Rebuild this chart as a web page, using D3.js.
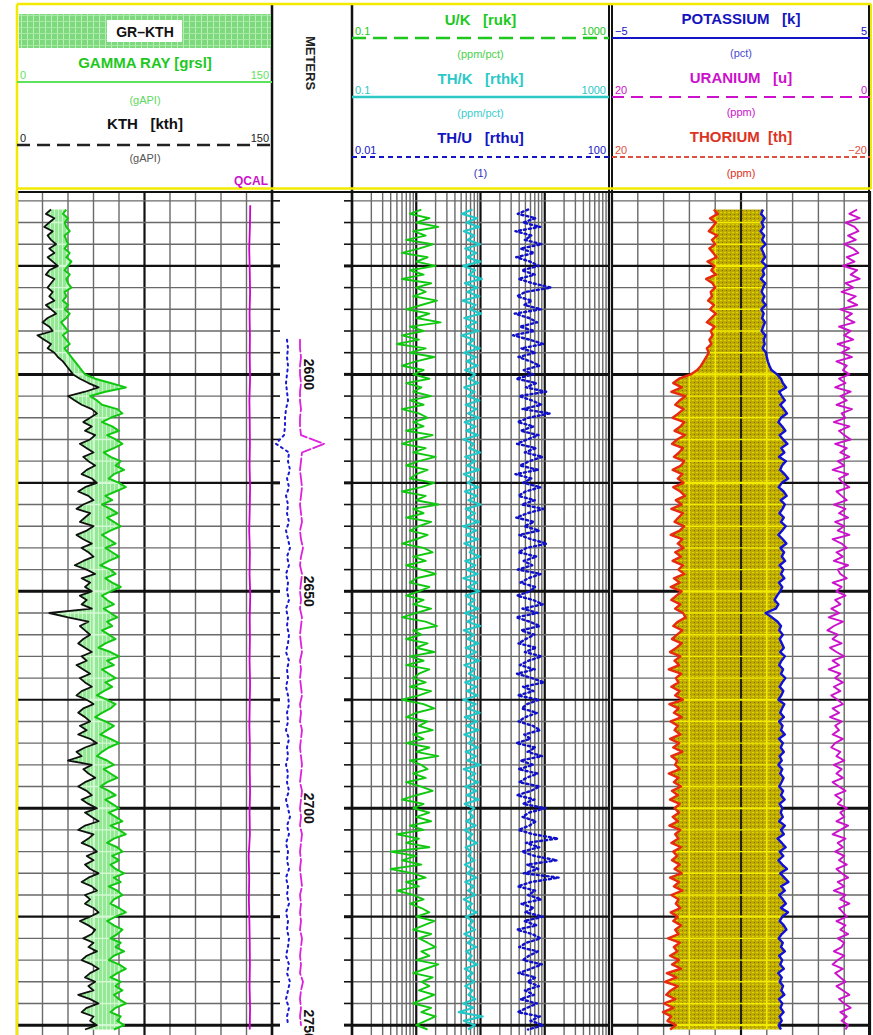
<!DOCTYPE html>
<html><head><meta charset="utf-8">
<script src="https://cdn.jsdelivr.net/npm/d3@7"></script>
<style>
body{margin:0;background:#fff}
svg{display:block}
text{font-family:"Liberation Sans",Arial,sans-serif;white-space:pre}
</style>
</head><body>
<svg id="c" width="873" height="1035"></svg>
<script>
// ---------------- DATA ----------------
const depthTop = 2562;            // first sample depth (m), 1 m spacing
const depthStep = 1;
const grValues = [
29,27,30,28,29,31,28,29,30,28, 31,29,32,30,28,31,29,30,32,28,
29,27,30,28,31,29,26,28,30,27, 29,31,28,30,32,34,36,38,40,46,
55,64,52,43,47,50,59,62,55,50, 56,60,53,58,62,57,51,55,61,58,
63,57,54,60,64,58,52,56,50,55, 59,53,57,61,55,50,54,58,52,56,
60,54,49,55,58,52,56,61,55,50, 53,57,51,55,59,53,56,50,54,58,
52,48,55,60,53,57,50,54,58,52, 56,51,47,53,58,55,50,46,52,57,
53,49,55,60,54,50,47,53,57,51, 55,59,53,49,54,58,52,56,60,54,
58,62,55,60,64,57,53,59,62,56, 60,55,58,63,57,61,54,59,62,57,
55,60,64,58,53,57,62,59,55,61, 58,63,57,54,60,64,59,55,61,58,
62,57,60,64,58,55,61,59,63,57];
const kthValues = [
20,17,22,19,16,21,18,20,23,19, 22,18,21,24,19,17,22,20,18,21,
19,22,17,20,23,18,15,19,21,12, 16,20,18,22,24,27,29,31,33,37,
42,48,40,30,34,38,44,47,43,39, 44,40,46,43,37,41,45,39,42,46,
41,38,44,47,40,36,42,45,39,35, 43,40,37,45,41,35,39,44,38,42,
45,39,34,41,46,38,43,40,44,37, 41,38,44,19,30,42,37,40,43,39,
36,40,44,38,41,35,39,43,37,40, 44,38,35,41,45,39,36,40,43,37,
41,36,43,47,40,35,38,30,44,39, 42,46,40,36,41,44,38,42,47,40,
44,48,40,36,45,42,38,44,47,41, 45,40,43,48,42,38,44,47,40,43,
40,45,48,43,37,42,46,44,39,45, 42,47,41,38,44,48,43,40,46,42,
45,36,43,48,41,38,45,43,47,40];
const qcalDepthTop = 2561, qcalStep = 5;
const qcalValues = [
137.2,137.0,136.6,136.9,137.1,136.8,137.0,136.9,137.1,136.7,
136.9,137.0,136.8,137.1,136.9,136.6,137.0,136.8,137.2,136.9,
137.0,136.8,137.1,136.9,136.7,137.0,136.9,137.1,136.8,137.0,
136.3,136.6,136.4,136.7,136.9,137.0,136.8,137.1,136.9];
const ukValues = [
1.2,0.8,1.6,1.0,2.2,0.9,1.4,0.7,1.8,1.1, 0.6,1.5,1.0,2.0,0.8,1.3,0.6,1.7,1.0,1.4,
0.9,2.1,1.2,0.7,1.6,1.0,2.4,0.8,1.3,0.6, 1.1,0.5,1.4,0.8,1.9,1.0,0.6,1.3,0.9,1.6,
0.7,1.2,0.9,1.7,0.8,1.3,0.6,1.1,1.5,0.9, 1.3,0.7,1.8,1.0,0.6,1.4,0.9,2.0,1.1,0.7,
1.5,1.0,0.8,1.9,1.2,0.6,1.4,1.0,2.2,0.9, 1.3,0.7,1.7,1.1,0.8,1.5,1.0,0.6,1.3,1.8,
0.9,1.4,0.7,1.2,2.0,1.0,0.8,1.6,1.1,0.7, 1.3,0.9,1.7,1.0,0.6,1.4,2.1,0.9,1.2,0.7,
1.5,1.0,1.9,0.8,1.3,0.7,1.6,1.1,0.9,1.4, 0.8,1.7,1.1,0.6,1.3,1.9,1.0,0.7,1.5,1.1,
1.8,0.9,1.3,0.7,1.6,1.0,2.2,0.8,1.2,1.5, 0.9,1.4,0.7,1.2,1.8,1.0,0.6,1.3,0.9,1.6,
1.0,1.7,0.8,1.3,0.5,1.1,0.7,1.6,0.4,1.0, 0.6,1.2,0.4,0.9,1.4,0.7,1.1,0.5,0.9,1.3,
0.8,1.2,1.6,1.0,1.9,1.3,0.9,1.7,1.1,1.5, 2.0,1.2,1.6,1.0,2.2,1.4,0.9,1.8,1.2,1.6,
1.1,1.9,1.3,0.9,1.7,1.2,2.0,1.4,1.0,1.5];
const thkValues = [
7.5,5.2,8.8,6.0,9.5,5.5,8.0,6.3,9.8,5.8, 8.6,6.1,9.9,5.4,8.2,6.6,10.5,5.7,8.9,6.2,
9.6,5.3,8.4,6.8,10.2,5.6,8.7,6.0,9.3,5.1, 8.0,6.4,9.7,5.5,8.5,6.1,9.0,5.8,8.3,6.6,
9.2,5.6,8.1,6.2,9.6,5.9,8.6,6.4,9.4,5.7, 8.4,6.0,9.1,5.4,7.9,6.7,9.8,5.8,8.3,6.1,
9.5,5.5,8.0,6.3,9.2,5.7,8.7,6.5,10.0,5.9, 8.2,6.2,9.4,5.3,8.6,6.0,9.1,5.6,8.4,6.8,
9.7,5.8,8.3,6.1,9.0,5.4,8.8,6.4,9.5,5.9, 8.1,6.5,9.3,5.7,8.5,6.2,9.9,5.5,8.0,6.3,
9.2,5.9,8.6,6.0,9.6,5.6,8.2,6.6,9.4,5.8, 8.7,6.1,9.0,5.4,8.4,6.3,9.7,5.7,8.9,6.0,
9.3,5.6,8.1,6.5,9.1,5.9,8.5,6.2,9.8,5.5, 8.3,6.4,9.2,5.8,8.6,6.1,9.4,5.7,8.0,6.6,
7.8,6.0,8.4,5.6,7.5,6.3,8.8,5.9,7.2,6.5, 8.1,5.7,7.6,6.2,8.6,5.8,7.9,6.4,8.3,5.5,
7.4,6.1,8.7,5.9,7.7,6.6,8.2,5.6,7.9,6.3, 8.5,6.0,7.3,6.4,8.9,5.7,7.6,6.2,8.0,5.8,
7.5,6.5,8.3,5.4,7.8,4.6,10.8,5.5,8.2,6.4];
const thuValues = [
5.5,3.8,7.2,4.6,8.5,3.5,6.2,4.9,9.0,4.2, 6.8,3.6,5.9,8.1,4.4,7.0,3.9,6.5,12.5,5.0,
3.7,6.3,4.8,8.8,3.4,5.7,7.6,4.1,6.9,3.2, 5.8,9.5,4.3,7.1,3.9,6.0,8.3,4.7,6.6,3.6,
7.4,5.1,10.5,4.0,6.3,8.9,4.5,12.0,5.6,3.8, 6.7,4.2,8.0,5.3,3.7,7.3,4.9,9.2,5.8,4.1,
7.9,3.5,6.2,4.6,8.6,5.0,3.9,7.0,4.4,9.6, 5.4,3.6,6.8,4.8,8.2,4.0,6.1,10.8,5.2,3.9,
7.5,4.7,6.4,3.8,8.7,5.5,4.2,7.1,5.9,3.7, 6.6,9.3,4.5,7.8,3.6,5.8,8.4,4.3,6.9,5.1,
3.9,7.4,4.9,8.9,5.6,4.1,7.0,3.7,6.3,9.8, 4.6,6.7,3.8,8.1,5.3,4.4,7.6,5.0,3.9,6.5,
8.5,4.8,6.0,3.6,7.2,5.4,9.1,4.2,6.6,3.9, 7.7,5.2,4.0,8.3,6.1,3.7,6.9,4.6,10.2,5.7,
4.5,7.3,5.8,3.9,6.6,16.0,5.1,8.2,4.4,6.9, 15.5,5.3,7.9,4.7,16.5,6.2,3.8,7.1,5.5,8.8,
4.3,6.7,5.0,9.4,4.8,7.5,3.7,6.4,8.6,5.2, 4.0,7.8,5.7,4.6,9.0,6.1,3.9,7.2,5.4,8.1,
4.9,6.8,4.2,7.6,5.3,3.8,8.4,6.0,9.5,5.5];
const kValues = [
0.85,0.78,0.92,0.80,0.88,0.76,0.90,0.82,0.95,0.79, 0.87,0.93,0.81,0.98,0.84,0.90,0.77,0.94,0.86,0.80,
0.91,0.83,0.96,0.79,0.88,0.82,0.93,0.86,0.80,0.95, 0.88,0.92,0.84,0.97,1.00,1.04,1.10,1.18,1.40,1.55,
1.62,1.75,1.48,1.58,1.70,1.52,1.66,1.78,1.55,1.45, 1.60,1.72,1.50,1.63,1.80,1.56,1.68,1.47,1.74,1.59,
1.52,1.69,1.83,1.58,1.46,1.65,1.77,1.54,1.70,1.61, 1.49,1.66,1.55,1.73,1.60,1.45,1.62,1.76,1.53,1.67,
1.58,1.71,1.50,1.64,1.55,1.68,1.47,1.60,1.52,1.40, 1.30,1.45,1.35,0.95,1.20,1.42,1.55,1.48,1.62,1.50,
1.58,1.66,1.52,1.70,1.57,1.48,1.63,1.55,1.72,1.60, 1.50,1.64,1.56,1.45,1.68,1.59,1.52,1.66,1.48,1.61,
1.55,1.70,1.47,1.62,1.54,1.66,1.50,1.58,1.45,1.60, 1.52,1.65,1.57,1.48,1.63,1.55,1.69,1.50,1.60,1.54,
1.62,1.48,1.70,1.55,1.66,1.42,1.58,1.73,1.50,1.64, 1.45,1.60,1.78,1.52,1.68,1.84,1.56,1.70,1.48,1.62,
1.74,1.55,1.82,1.60,1.50,1.66,1.76,1.58,1.46,1.62, 1.55,1.70,1.48,1.60,1.52,1.66,1.44,1.58,1.50,1.63,
1.56,1.68,1.47,1.60,1.53,1.65,1.50,1.58,1.46,1.55];
const thValues = [
4.2,3.6,4.8,3.9,4.4,5.0,3.7,4.5,4.0,4.9, 4.3,3.8,5.2,4.1,4.6,3.9,5.4,4.4,4.0,4.7,
4.5,5.1,4.2,4.8,3.9,4.6,5.3,4.1,4.7,4.4, 4.9,4.6,5.3,5.0,5.4,5.8,6.2,6.8,7.8,9.6,
10.5,9.2,10.8,8.6,9.5,10.2,8.9,9.7,10.6,8.8, 9.4,10.3,8.7,9.9,10.7,9.0,9.6,10.4,8.8,9.3,
10.6,9.1,9.8,8.9,10.5,9.4,8.7,10.1,9.2,10.8, 9.0,9.7,10.3,8.8,9.5,10.9,9.1,9.8,8.9,10.2,
9.3,10.6,9.0,9.7,8.8,10.4,9.5,10.9,9.2,10.0, 10.8,9.4,10.2,9.0,8.6,9.8,10.5,9.1,9.9,10.7,
9.2,10.0,11.0,9.4,10.3,9.6,11.2,9.3,10.1,9.7, 10.8,9.5,10.2,9.0,11.1,9.7,10.4,9.2,10.9,9.8,
10.3,9.4,11.0,9.6,10.5,9.1,10.8,9.9,10.2,9.5, 11.2,9.7,10.4,9.3,10.7,9.8,11.0,9.5,10.3,9.6,
10.6,9.8,11.1,9.4,10.2,9.7,10.8,9.3,10.5,9.9, 10.7,9.5,10.3,9.2,11.0,9.6,10.4,9.1,10.8,9.7,
10.1,9.4,10.9,9.8,10.5,9.3,10.2,9.7,11.3,9.5, 10.4,9.9,11.0,9.6,10.7,9.3,11.5,10.0,11.8,9.8,
10.9,11.6,10.2,11.9,10.5,12.1,10.8,11.4,10.1,11.0];
const uValues = [
1.0,1.6,0.8,1.9,1.2,0.9,1.7,1.1,2.0,1.3, 0.9,1.8,1.2,2.1,1.0,1.5,0.8,1.9,1.3,2.2,
1.1,1.7,1.0,2.3,1.4,1.9,1.2,2.4,1.5,2.0, 1.3,2.5,1.6,2.2,1.4,2.6,1.8,2.1,1.6,2.4,
1.9,2.7,1.5,2.3,1.8,2.6,1.4,2.2,1.9,2.8, 1.6,2.4,2.0,1.5,2.7,1.8,2.3,1.6,2.5,2.0,
2.9,1.7,2.4,2.1,1.6,2.6,2.2,1.8,2.8,1.9, 2.4,1.7,2.7,2.0,2.5,1.6,2.9,2.2,1.8,2.6,
2.1,2.8,1.7,2.5,2.3,1.8,2.9,2.2,2.6,1.9, 2.7,2.3,3.0,2.4,3.2,2.1,2.8,3.3,2.5,2.9,
2.2,3.1,2.6,2.0,2.9,2.4,3.2,2.3,2.7,2.1, 2.8,2.3,3.0,2.5,2.1,2.9,2.4,3.1,2.2,2.7,
2.4,2.9,2.1,2.7,3.0,2.3,2.6,2.0,2.8,2.2, 2.6,2.1,2.9,2.4,1.9,2.7,2.2,2.5,1.8,2.3,
2.0,2.6,1.7,2.3,2.9,1.9,2.5,2.1,2.7,2.0, 2.4,1.8,2.6,2.2,1.7,2.5,2.0,2.8,1.9,2.3,
1.6,2.4,2.1,1.8,2.6,1.9,2.3,1.7,2.5,2.0, 2.2,2.8,2.0,2.5,2.9,2.1,2.7,2.3,1.9,2.6,
2.1,1.6,2.4,2.0,1.5,2.3,1.8,2.2,1.7,1.9];
// curves in the depth track (2 m spacing)
const auxDepthTop = 2592, auxStep = 2;
const auxBlueValues = [
15,16,15,16,15,14,15,16,14,13, 13,12,4,17,16,18,15,17,14,16,
15,17,14,16,18,15,17,14,16,15, 17,14,16,15,17,16,14,17,15,16,
14,16,17,15,16,14,17,15,16,14, 16,15,17,14,16,18,15,17,14,16,
15,17,14,16,15,17,14,16,15,17, 16,14,17,15,18,16,14,17,15,16];
const auxMagentaValues = [
28,28,29,28,28,29,28,28,29,28, 28,29,52,30,29,28,29,30,29,28,
29,30,28,29,31,29,28,30,29,28, 29,28,30,29,28,29,30,28,29,28,
29,30,28,29,28,30,29,28,29,30, 29,28,30,29,28,29,28,30,29,28,
29,28,29,30,28,29,28,29,28,30, 29,28,29,28,31,29,28,29,28,29];
const depthLabels = [2600, 2650, 2700, 2750];
const gridMinor = 5, gridMajor = 25, gridBold = 50;

// ---------------- LAYOUT ----------------
const svg = d3.select("#c");
const W = 873, H = 1035;
const T1 = [17, 272], TD = [272, 352], T3 = [352, 609], T4 = [612, 870];
const bodyTop = 191, bodyBot = 1035;
const yS = d3.scaleLinear().domain([2557.5, 2752.5]).range([190, 1036]);

const x1 = d3.scaleLinear().domain([0, 150]).range(T1);
const xLogA = d3.scaleLog().domain([0.1, 1000]).range(T3);
const xLogB = d3.scaleLog().domain([0.01, 100]).range(T3);
const xK = d3.scaleLinear().domain([-5, 5]).range(T4);
const xTh = d3.scaleLinear().domain([20, -20]).range(T4);
const xU = d3.scaleLinear().domain([20, 0]).range(T4);
const xAux = d3.scaleLinear().domain([0, 80]).range(TD);

const ser = (vals, top, step) => vals.map((v, i) => ({d: top + i * step, v}));
const GR = ser(grValues, depthTop, depthStep), KTH = ser(kthValues, depthTop, depthStep);
const QC = ser(qcalValues, qcalDepthTop, qcalStep);
const UK = ser(ukValues, depthTop, depthStep), THK = ser(thkValues, depthTop, depthStep), THU = ser(thuValues, depthTop, depthStep);
const K = ser(kValues, depthTop, depthStep), TH = ser(thValues, depthTop, depthStep), U = ser(uValues, depthTop, depthStep);
const AB = ser(auxBlueValues, auxDepthTop, auxStep), AM = ser(auxMagentaValues, auxDepthTop, auxStep);

// ---------------- PATTERNS ----------------
const defs = svg.append("defs");
const pg = defs.append("pattern").attr("id", "pGreen").attr("patternUnits", "userSpaceOnUse").attr("width", 4).attr("height", 4);
pg.append("rect").attr("width", 4).attr("height", 4).attr("fill", "#95e895");
pg.append("rect").attr("x", 2).attr("width", 1).attr("height", 4).attr("fill", "#c9f7c9");
const ph = defs.append("pattern").attr("id", "pHead").attr("patternUnits", "userSpaceOnUse").attr("width", 6).attr("height", 6);
ph.append("rect").attr("width", 6).attr("height", 6).attr("fill", "#7ed87e");
ph.append("rect").attr("x", 3).attr("width", 1).attr("height", 6).attr("fill", "#b8f0b8");
ph.append("rect").attr("y", 3).attr("width", 6).attr("height", 1).attr("fill", "#a6eaa6");
const po = defs.append("pattern").attr("id", "pOlive").attr("patternUnits", "userSpaceOnUse").attr("width", 4).attr("height", 4);
po.append("rect").attr("width", 4).attr("height", 4).attr("fill", "#bcaa00");
po.append("rect").attr("x", 0).attr("y", 0).attr("width", 2).attr("height", 1).attr("fill", "#e0d400");
po.append("rect").attr("x", 2).attr("y", 2).attr("width", 1).attr("height", 1).attr("fill", "#7d7000");

// ---------------- GRID ----------------
const gridDepths = d3.range(2560, 2755, gridMinor);
function vLinesLinear(r, n) {
  return d3.range(n + 1).map(i => ({x: r[0] + (r[1] - r[0]) * i / n, major: i === n / 2, edge: i === 0 || i === n}));
}
const v1 = vLinesLinear(T1, 10), v4 = vLinesLinear(T4, 10);
const v3 = [];
[0.1, 1, 10, 100].forEach(dec => d3.range(1, 10).forEach(m => v3.push({x: xLogA(dec * m), major: m === 1, edge: false})));
v3.push({x: xLogA(1000), major: true, edge: true});

function drawGrid(g, r, vl, colMinor, colMajor) {
  vl.forEach(l => g.append("line").attr("x1", l.x).attr("x2", l.x).attr("y1", bodyTop).attr("y2", bodyBot)
    .attr("stroke", l.major || l.edge ? colMajor : colMinor).attr("stroke-width", l.major || l.edge ? 2.2 : 1.4));
  gridDepths.forEach(d => {
    const bold = d % gridBold === 0, maj = d % gridMajor === 0;
    g.append("line").attr("x1", r[0]).attr("x2", r[1]).attr("y1", yS(d)).attr("y2", yS(d))
      .attr("stroke", maj ? colMajor : colMinor).attr("stroke-width", bold ? 3 : maj ? 2.2 : 1.4);
  });
}
const gGrid = svg.append("g");
drawGrid(gGrid, T1, v1, "#6a6a6a", "#111");
drawGrid(gGrid, T3, v3, "#6a6a6a", "#111");
drawGrid(gGrid, T4, v4, "#6a6a6a", "#111");

// depth track ticks
const gD = svg.append("g");
gridDepths.forEach(d => {
  const maj = d % gridMajor === 0;
  [[TD[0], TD[0] + 8], [TD[1] - 8, TD[1]]].forEach(([a, b]) =>
    gD.append("line").attr("x1", a).attr("x2", b).attr("y1", yS(d)).attr("y2", yS(d))
      .attr("stroke", "#111").attr("stroke-width", maj ? 3 : 1.6));
});

// ---------------- FILLS ----------------
function fillArea(id, s0, s1, f0, f1, fillUrl, gridCol, vl, r) {
  const area = d3.area().y(d => yS(d.d)).x0((d, i) => f0(s0[i].v)).x1((d, i) => f1(s1[i].v));
  defs.append("clipPath").attr("id", id).append("path").attr("d", area(s0));
  svg.append("path").attr("d", area(s0)).attr("fill", fillUrl);
  const g = svg.append("g").attr("clip-path", `url(#${id})`);
  vl.forEach(l => g.append("line").attr("x1", l.x).attr("x2", l.x).attr("y1", bodyTop).attr("y2", bodyBot)
    .attr("stroke", l.major ? "#222" : gridCol).attr("stroke-width", l.major ? 2 : 1.6));
  gridDepths.forEach(d => g.append("line").attr("x1", r[0]).attr("x2", r[1]).attr("y1", yS(d)).attr("y2", yS(d))
    .attr("stroke", gridCol).attr("stroke-width", d % gridMajor === 0 ? 2.2 : 1.4));
}
fillArea("clipGR", KTH, GR, x1, x1, "url(#pGreen)", "#d4f8d4", v1, T1);
fillArea("clipTK", TH, K, xTh, xK, "url(#pOlive)", "#f2ea00", v4, T4);

// ---------------- CURVES ----------------
function curve(data, xs, color, w, dash) {
  const p = svg.append("path").attr("d", d3.line().x(d => xs(d.v)).y(d => yS(d.d))(data))
    .attr("fill", "none").attr("stroke", color).attr("stroke-width", w).attr("stroke-linejoin", "round");
  if (dash) p.attr("stroke-dasharray", dash).attr("stroke-linecap", "round");
}
curve(KTH, x1, "#111", 1.8);
curve(GR, x1, "#11c811", 2);
curve(QC, x1, "#cc00cc", 1.8);
curve(UK, xLogA, "#11c811", 1.9);
curve(THK, xLogA, "#22c8c8", 2.2);
curve(THU, xLogB, "#1010c8", 2.4, "2,3");
curve(TH, xTh, "#e82a10", 2.4);
curve(K, xK, "#1010d8", 2.4);
curve(U, xU, "#cc11cc", 1.9);
curve(AB, xAux, "#1a1ad0", 2, "2,4");
curve(AM, xAux, "#dd22dd", 1.8, "12,3");

// ---------------- BORDERS ----------------
const gB = svg.append("g");
[[TD[0], 2.5], [TD[1], 2.5], [T3[1], 2], [T4[0], 2], [T4[1] - 1, 2]].forEach(([x, w]) =>
  gB.append("line").attr("x1", x).attr("x2", x).attr("y1", 5).attr("y2", H).attr("stroke", "#111").attr("stroke-width", w));
gB.append("line").attr("x1", T1[0]).attr("x2", W - 3).attr("y1", bodyTop + 1).attr("y2", bodyTop + 1).attr("stroke", "#111").attr("stroke-width", 2);
gB.append("line").attr("x1", T1[0]).attr("x2", T1[0]).attr("y1", 4).attr("y2", H).attr("stroke", "#f2ea00").attr("stroke-width", 2.5);
gB.append("line").attr("x1", T1[0]).attr("x2", W - 2).attr("y1", 4).attr("y2", 4).attr("stroke", "#f2ea00").attr("stroke-width", 2.5);
gB.append("line").attr("x1", T1[0]).attr("x2", W - 2).attr("y1", 188.5).attr("y2", 188.5).attr("stroke", "#f2ea00").attr("stroke-width", 2.5);
gB.append("line").attr("x1", W - 2).attr("x2", W - 2).attr("y1", 4).attr("y2", 189).attr("stroke", "#f2ea00").attr("stroke-width", 2);

// depth labels (the deepest one runs off the bottom edge, as in the log print)
depthLabels.forEach(d => svg.append("text").attr("transform", `translate(304,${yS(d)}) rotate(90)`)
  .attr("text-anchor", "middle").attr("font-size", 14).attr("font-weight", "bold").attr("fill", "#111").text(d));

// ---------------- HEADER ----------------
const H1 = svg.append("g");
H1.append("rect").attr("x", 19).attr("y", 14).attr("width", 252).attr("height", 34).attr("fill", "url(#pHead)");
H1.append("rect").attr("x", 107).attr("y", 20).attr("width", 75).attr("height", 22).attr("fill", "#fff");
function txt(g, x, y, s, col, size, bold, anchor) {
  return g.append("text").attr("x", x).attr("y", y).attr("fill", col).attr("font-size", size)
    .attr("font-weight", bold ? "bold" : "normal").attr("text-anchor", anchor || "middle").text(s);
}
function scaleLine(g, r, y, col, w, dash, lo, hi) {
  const l = g.append("line").attr("x1", r[0]).attr("x2", r[1]).attr("y1", y).attr("y2", y).attr("stroke", col).attr("stroke-width", w);
  if (dash) l.attr("stroke-dasharray", dash);
  txt(g, r[0] + 3, y - 3, lo, col, 11, false, "start");
  txt(g, r[1] - 3, y - 3, hi, col, 11, false, "end");
}
txt(H1, 145, 37, "GR\u2013KTH", "#111", 14, true);
txt(H1, 145, 68, "GAMMA RAY [grsl]", "#1ec81e", 15, true);
scaleLine(H1, T1, 82, "#5ee25e", 2.2, null, "0", "150");
txt(H1, 145, 104, "(gAPI)", "#5ed85e", 11);
txt(H1, 145, 129, "KTH   [kth]", "#111", 15, true);
scaleLine(H1, T1, 145, "#222", 2.5, "13,7", "0", "150");
txt(H1, 145, 162, "(gAPI)", "#555", 11);
txt(H1, 268, 185, "QCAL", "#cc11cc", 12, true, "end");

svg.append("text").attr("transform", "translate(306,63) rotate(90)").attr("text-anchor", "middle")
  .attr("font-size", 13).attr("font-weight", "bold").attr("fill", "#222").text("METERS");

const H3 = svg.append("g");
const c3 = (T3[0] + T3[1]) / 2;
txt(H3, c3, 25, "U/K   [ruk]", "#1ec81e", 15, true);
scaleLine(H3, T3, 38, "#1ec81e", 2.5, "14,7", "0.1", "1000");
txt(H3, c3, 58, "(ppm/pct)", "#4ad04a", 11);
txt(H3, c3, 84, "TH/K   [rthk]", "#2cc8c8", 15, true);
scaleLine(H3, T3, 97, "#2cc8c8", 2.5, null, "0.1", "1000");
txt(H3, c3, 117, "(ppm/pct)", "#3ccccc", 11);
txt(H3, c3, 143, "TH/U   [rthu]", "#1515c0", 15, true);
scaleLine(H3, T3, 157, "#1515c8", 2, "5,4", "0.01", "100");
txt(H3, c3, 177, "(1)", "#3030c8", 11);

const H4 = svg.append("g");
const c4 = (T4[0] + T4[1]) / 2;
txt(H4, c4, 24, "POTASSIUM   [k]", "#1515c0", 15, true);
scaleLine(H4, T4, 38, "#1515c8", 2.2, null, "\u22125", "5");
txt(H4, c4, 57, "(pct)", "#4a4ad0", 11);
txt(H4, c4, 83, "URANIUM   [u]", "#cc11cc", 15, true);
scaleLine(H4, T4, 97, "#cc11cc", 2.2, "12,7", "20", "0");
txt(H4, c4, 116, "(ppm)", "#cc11cc", 11);
txt(H4, c4, 142, "THORIUM  [th]", "#dd3322", 15, true);
scaleLine(H4, T4, 157, "#e05040", 2.2, "5,3", "20", "\u221220");
txt(H4, c4, 177, "(ppm)", "#dd3322", 11);
</script>
</body></html>
